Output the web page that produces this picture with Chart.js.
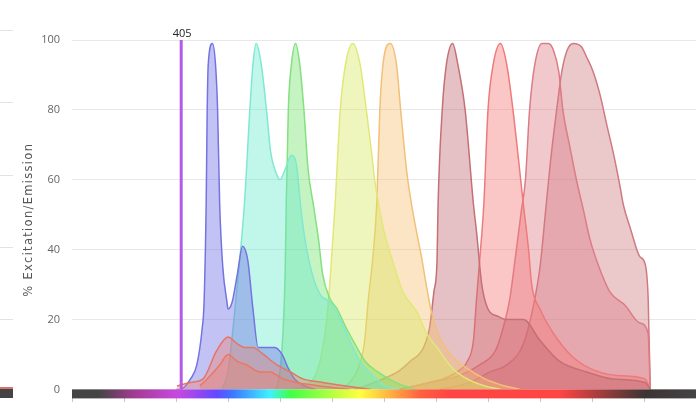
<!DOCTYPE html>
<html>
<head>
<meta charset="utf-8">
<script src="https://cdn.jsdelivr.net/npm/chart.js@4.4.0/dist/chart.umd.min.js"></script>
<style>
  html, body { margin: 0; padding: 0; background: #fff; overflow: hidden; }
  #wrap { width: 696px; height: 402px; position: relative; overflow: hidden; }
</style>
</head>
<body>
<div id="wrap"><canvas id="spectraChart" width="696" height="408"></canvas></div>
<script>
// wavelength range (nm) and y ticks
const nmMin = 300;
const nmMax = 900;
const nmStep = 50;
const yTicks = [0, 20, 40, 60, 80, 100];
const laserNm = 405;

// emission curves (nm, % value)
const violetNm  = [400,404,414,420,425,427,429,430,431,435,438,440,442,445,449,450,454,459,464,469,474,479,488,495,502,508,514,524,534];
const violetVal = [0,0,3,7,17,25,53,80,93,99,93,80,53,35,25,23,25,33,41,37,23,12,12,12,10,6,3,1,0];

const cyanNm  = [444,450,454,459,466,471,474,477,482,487,491,495,500,505,511,516,520,524,531,539,548,558,567,577,589,601,615];
const cyanVal = [0,5,15,30,54,80,93,99,93,80,68,63,60,63,67,64,52,43,33,27,25,20,14,8,4,1,0];

const greenNm  = [496,500,503,505,506,508,511,515,519,523,527,532,537,541,548,555,563,572,582,594,611,630];
const greenVal = [0,5,17,34,53,80,93,99,93,80,63,53,43,33,26,23,18,13,8,5,2,0];

const yellowNm  = [514,524,534,540,545,549,553,558,563,570,577,583,588,591,596,601,606,618,632,641,651,666,680,697,712];
const yellowVal = [0,1,4,10,20,35,53,80,93,99,93,80,68,60,51,44,39,28,22,16,12,6,3,1,0];

const orangeNm  = [558,567,575,581,585,589,593,596,599,606,612,616,622,627,632,636,640,645,652,664,680,697,716,731];
const orangeVal = [0,2,6,13,26,37,53,80,93,99,93,80,62,52,44,38,31,23,16,10,6,3,1,0];

const roseNm  = [572,582,599,613,625,638,644,648,651,652,656,660,666,671,678,686,689,694,700,709,718,734,750,769,795,820,851,856];
const roseVal = [0,1,3,5,8,12,18,28,37,53,80,93,99,93,80,53,45,30,23,21,20,20,14,8,5,3,2,0];

const redNm  = [615,644,657,670,680,686,689,692,696,700,705,712,718,724,734,739,742,750,763,779,798,824,851,856];
const redVal = [0,2,3,5,8,14,26,37,53,80,93,99,93,80,53,40,30,23,16,10,6,4,3,0];

const pinkNm  = [615,644,673,692,707,714,721,726,732,736,740,745,752,758,763,768,772,779,785,792,798,808,817,832,846,854,856];
const pinkVal = [0,2,4,7,11,17,26,37,51,60,80,93,99,99,97,91,80,69,60,51,43,34,28,24,19,16,0];

const farRedNm  = [654,683,702,718,734,743,750,756,760,766,771,776,782,790,795,801,808,814,821,827,830,837,846,851,854,856];
const farRedVal = [0,2,5,7,13,23,35,53,65,80,91,97,99,98,95,91,84,76,67,58,53,46,38,36,26,0];

// low excitation humps
const excANm  = [401,414,426,439,450,459,466,474,484,497,510,522,541,563,587];
const excAVal = [1,2,3,11,15,13,12,12,10,7,5,3,2,1,0];
const excBNm  = [423,430,442,450,459,468,481,490,503,516,539,567];
const excBVal = [1,3,7,10,8,7,5,5,3,2,1,0];

// spectrum strip under the axis
const specNm    = [300,325,359,401,439,455,490,510,551,577,606,635,664,769,851,900];
const specColor = ['#444','#444','#a03c90','#c848e0','#6448ff','#3c78ff','#40f0ff','#40ff48','#b8ff40','#ffff40','#ffb040','#ff6040','#ff4444','#ff4444','#3c3434','#444'];

const pts = (xs, ys) => xs.map((x, i) => ({ x: x, y: ys[i] }));

function curve(label, xs, ys, line, fill) {
  return {
    label: label,
    data: pts(xs, ys),
    borderColor: line,
    backgroundColor: fill,
    borderWidth: 1.5,
    fill: 'origin',
    pointRadius: 0,
    tension: 0.4,
    cubicInterpolationMode: 'monotone'
  };
}

// wider letter spacing for the y title, like the original
const spacedTitle = {
  id: 'spacedTitle',
  afterLayout(chart) {
    const s = chart.scales.y;
    if (s._spaced) return;
    const orig = s.drawTitle;
    s.drawTitle = function () {
      this.ctx.save();
      this.ctx.letterSpacing = '1.3px';
      this.ctx.translate(0, 5);
      orig.call(this);
      this.ctx.restore();
    };
    s._spaced = true;
  }
};

const laserLabel = {
  id: 'laserLabel',
  afterDatasetsDraw(chart) {
    const { ctx, chartArea, scales } = chart;
    const x = scales.x.getPixelForValue(laserNm);
    ctx.save();
    ctx.font = '11px "Open Sans", sans-serif';
    ctx.fillStyle = '#222';
    ctx.textAlign = 'center';
    ctx.textBaseline = 'bottom';
    ctx.fillText(String(laserNm), x + 1, chartArea.top - 1);
    ctx.restore();
  }
};

const spectrumBar = {
  id: 'spectrumBar',
  afterDraw(chart) {
    const { ctx, chartArea, scales } = chart;
    const xs = scales.x;
    const g = ctx.createLinearGradient(xs.getPixelForValue(nmMin), 0, xs.getPixelForValue(nmMax), 0);
    specNm.forEach((nm, i) => g.addColorStop((nm - nmMin) / (nmMax - nmMin), specColor[i]));
    ctx.save();
    ctx.fillStyle = g;
    ctx.fillRect(chartArea.left, chartArea.bottom, chartArea.right - chartArea.left, 9);
    // piece of the neighbouring panel at the far left
    ctx.strokeStyle = '#e2e2e2';
    ctx.lineWidth = 1;
    [30, 102, 175, 247, 319].forEach(y => {
      ctx.beginPath(); ctx.moveTo(0, y + 0.5); ctx.lineTo(13, y + 0.5); ctx.stroke();
    });
    ctx.fillStyle = '#e07070';
    ctx.fillRect(0, 387, 13, 2);
    ctx.fillStyle = '#444';
    ctx.fillRect(0, 389, 13, 9);
    ctx.restore();
  }
};

const ctx = document.getElementById('spectraChart').getContext('2d');
new Chart(ctx, {
  type: 'line',
  data: {
    datasets: [
      {
        label: 'Laser',
        data: [{ x: laserNm, y: 0 }, { x: laserNm, y: 100 }],
        borderColor: '#b45ae8',
        borderWidth: 3,
        pointRadius: 0,
        fill: false
      },
      curve('Exc A', excANm, excAVal, '#e87462', 'rgba(240,125,105,0.38)'),
      curve('Exc B', excBNm, excBVal, '#e87462', 'rgba(240,125,105,0.38)'),
      curve('Violet', violetNm, violetVal, '#7474e0', 'rgba(110,110,232,0.42)'),
      curve('Cyan', cyanNm, cyanVal, '#80e8d2', 'rgba(100,232,205,0.40)'),
      curve('Green', greenNm, greenVal, '#84e080', 'rgba(110,225,100,0.40)'),
      curve('Yellow', yellowNm, yellowVal, '#e0e878', 'rgba(215,232,90,0.40)'),
      curve('Orange', orangeNm, orangeVal, '#f2c078', 'rgba(245,190,110,0.40)'),
      curve('Rose', roseNm, roseVal, '#c47075', 'rgba(190,100,110,0.40)'),
      curve('Red', redNm, redVal, '#ee7b7b', 'rgba(245,120,120,0.42)'),
      curve('Pink', pinkNm, pinkVal, '#dc7c84', 'rgba(220,120,130,0.40)'),
      curve('Far red', farRedNm, farRedVal, '#cf7a80', 'rgba(205,120,125,0.40)')
    ]
  },
  options: {
    responsive: false,
    animation: false,
    layout: { padding: { top: 40, left: 0, right: 0, bottom: 0 } },
    plugins: { legend: { display: false }, tooltip: { enabled: false } },
    scales: {
      x: {
        type: 'linear',
        min: nmMin,
        max: nmMax,
        ticks: { display: false, stepSize: nmStep },
        grid: { drawOnChartArea: false, drawTicks: true, tickLength: 13, color: '#c8c8c8' },
        border: { display: false },
        afterFit: s => { s.height = 7; }
      },
      y: {
        min: 0,
        max: 100,
        afterBuildTicks: s => { s.ticks = yTicks.map(v => ({ value: v })); },
        ticks: { padding: 12, color: '#666', font: { family: 'Open Sans', size: 11 } },
        grid: { color: '#e8e8e8', drawTicks: false },
        border: { display: false },
        title: {
          display: true,
          text: '% Excitation/Emission',
          color: '#555',
          font: { family: 'DejaVu Sans', size: 11.5 },
          padding: { top: 22, bottom: 0 }
        },
        afterFit: s => { s.width = 72; }
      }
    }
  },
  plugins: [spacedTitle, laserLabel, spectrumBar]
});
</script>
</body>
</html>
